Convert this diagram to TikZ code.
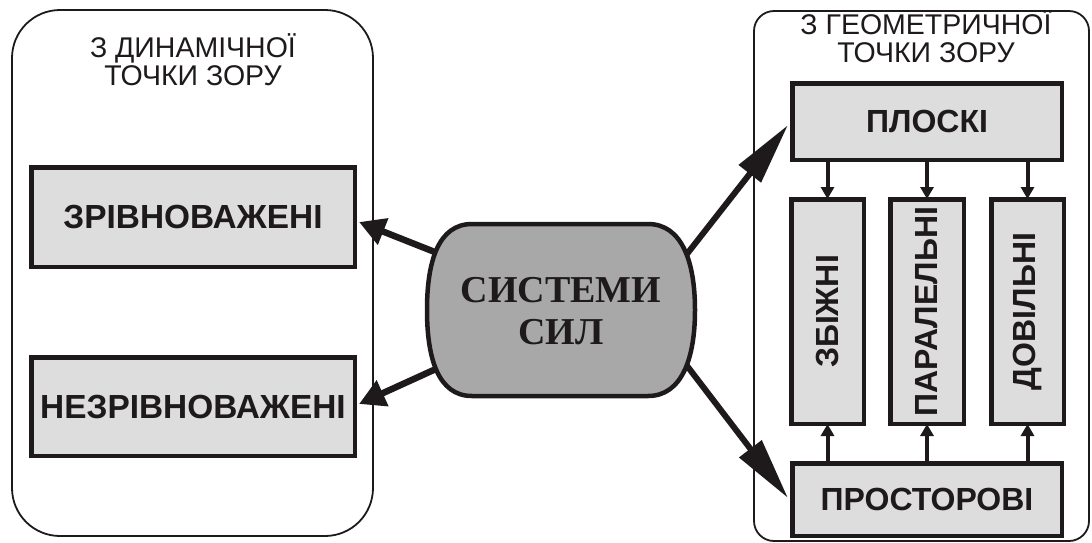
\documentclass[tikz,border=0pt]{standalone}
\usepackage{fontspec}
\setmainfont{Liberation Sans}
\newfontfamily\serifb{Liberation Serif}
\usetikzlibrary{arrows.meta,calc}
\definecolor{ink}{RGB}{30,26,27}
\definecolor{boxgrey}{RGB}{221,221,221}
\definecolor{midgrey}{RGB}{168,168,168}
\begin{document}
\begin{tikzpicture}[x=1pt,y=-1pt,
  frame/.style={draw=ink, line width=1.8pt, inner sep=0pt},
  labelbox/.style={draw=ink, fill=boxgrey, line width=4.5pt, inner sep=0pt,
    font=\fontsize{32}{38}\selectfont\bfseries, text=ink},
  bigbox/.style={labelbox, font=\fontsize{33.4}{40}\selectfont\bfseries},
  vtext/.style={rotate=90, inner sep=0pt, font=\fontsize{32}{38}\selectfont\bfseries, text=ink},
  bigarrow/.style={draw=ink, line width=6.5pt, -{Triangle[length=26pt,width=27pt]}},
  longarrow/.style={draw=ink, line width=6pt, -{Triangle[length=62pt,width=27pt]}},
  smallarrow/.style={draw=ink, line width=4pt, -{Triangle[length=12pt,width=13pt]}, shorten >=-2pt},
  title/.style={font=\fontsize{28.5}{28}\selectfont, text=ink, align=center, inner sep=0pt}
]
\useasboundingbox (0,0) rectangle (1092,542);

% outer frames
\node[frame, rounded corners=48pt, minimum width=361pt, minimum height=526pt] (dyn) at (192.5,273) {};
\node[frame, rounded corners=20pt, minimum width=335pt, minimum height=530pt] (geo) at (921.5,276) {};

% titles
\node[title] (dyntitle) at (193,60) {З ДИНАМІЧНОЇ\\ТОЧКИ ЗОРУ};
\node[title] (geotitle) at (926,37) {З ГЕОМЕТРИЧНОЇ\\ТОЧКИ ЗОРУ};

% left boxes
\node[bigbox, minimum width=323.5pt, minimum height=99.5pt] (zr) at (193,217) {ЗРІВНОВАЖЕНІ};
\node[bigbox, minimum width=323.5pt, minimum height=98.5pt] (nz) at (193,406.5) {НЕЗРІВНОВАЖЕНІ};

% right boxes
\node[labelbox, minimum width=269.5pt, minimum height=76.5pt] (pl) at (927,121.5) {ПЛОСКІ};
\node[labelbox, minimum width=269.5pt, minimum height=72.5pt] (pr) at (927,499.5) {ПРОСТОРОВІ};
\node[labelbox, minimum width=72.5pt, minimum height=224.5pt] (zb) at (827.5,311.5) {};
\node[labelbox, minimum width=73.5pt, minimum height=224.5pt] (pa) at (927,311.5) {};
\node[labelbox, minimum width=72.5pt, minimum height=224.5pt] (dv) at (1027.5,311.5) {};
\node[vtext] (zbt) at (zb) {ЗБІЖНІ};
\node[vtext] (pat) at (pa) {ПАРАЛЕЛЬНІ};
\node[vtext] (dvt) at (dv) {ДОВІЛЬНІ};

% small arrows
\draw[smallarrow] (zb.north |- pl.south) -- (zb.north);
\draw[smallarrow] (pa.north |- pl.south) -- (pa.north);
\draw[smallarrow] (dv.north |- pl.south) -- (dv.north);
\draw[smallarrow] (zb.south |- pr.north) -- (zb.south);
\draw[smallarrow] (pa.south |- pr.north) -- (pa.south);
\draw[smallarrow] (dv.south |- pr.north) -- (dv.south);

% big arrows (start inside the central shape)
\coordinate (sUL) at (460,262);
\coordinate (sLL) at (460,358);
\coordinate (sUR) at (665,282);
\coordinate (sLR) at (665,337);
\draw[bigarrow] (sUL) -- ($(zr.east)+(2,5)$);
\draw[bigarrow] (sLL) -- ($(nz.east)+(2,-2.5)$);
\draw[longarrow] (sUR) -- ($(pl.west)+(-2,3.5)$);
\draw[longarrow] (sLR) -- ($(pr.west)+(-2,-1.5)$);

% central shape
\path[draw=ink, fill=midgrey, line width=4.5pt]
  (472,224) -- (648,224)
  .. controls (682,224) and (695,262) .. (695,310)
  .. controls (695,358) and (682,396) .. (648,396)
  -- (472,396)
  .. controls (438,396) and (427,358) .. (427,310)
  .. controls (427,262) and (438,224) .. (472,224) -- cycle;
\node[font={\fontsize{38}{42}\selectfont\serifb\bfseries}, text=ink, align=center, inner sep=0pt] (sys) at (561,311) {СИСТЕМИ\\СИЛ};
\end{tikzpicture}
\end{document}
